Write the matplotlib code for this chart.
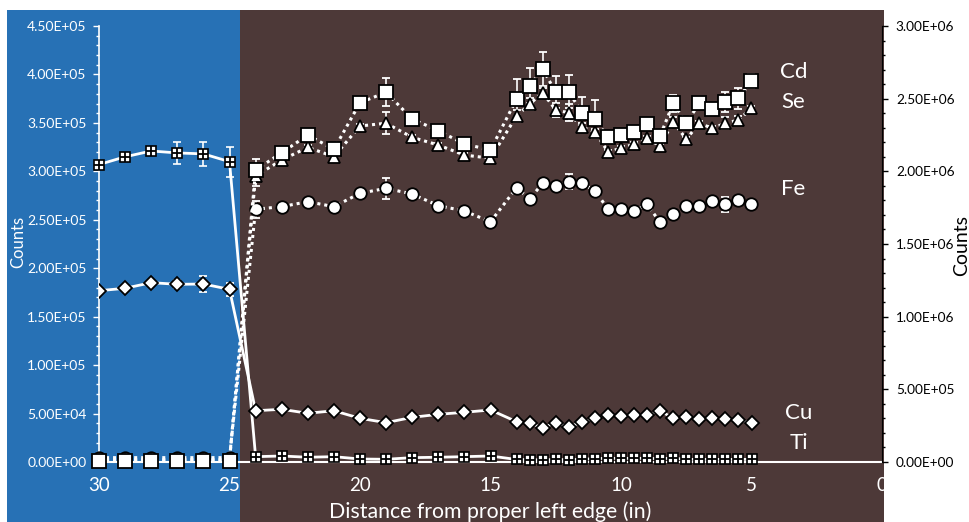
import matplotlib.pyplot as plt
from matplotlib.patches import Rectangle
from matplotlib.ticker import MultipleLocator, FuncFormatter

plt.rcParams['font.family'] = ['Lato', 'DejaVu Sans']

# distance (in) from proper left edge
dist = [30, 29, 28, 27, 26, 25,
        24, 23, 22, 21, 20, 19, 18, 17, 16, 15,
        14, 13.5, 13, 12.5, 12, 11.5, 11, 10.5, 10, 9.5, 9, 8.5, 8, 7.5, 7, 6.5, 6, 5.5, 5]

# left axis (solid lines)
ti = [3.07e5, 3.15e5, 3.21e5, 3.19e5, 3.18e5, 3.10e5,
      5.5e3, 6.2e3, 4.9e3, 5.5e3, 3.1e3, 2.8e3, 4.5e3, 4.9e3, 5.5e3, 6.2e3,
      2.6e3, 2.4e3, 2.2e3, 2.6e3, 2.4e3, 2.8e3, 3.5e3, 3.9e3, 3.7e3, 3.9e3, 3.7e3, 3.5e3, 3.9e3,
      2.8e3, 2.6e3, 2.8e3, 2.6e3, 2.8e3, 2.6e3]
ti_err = [2e3, 4e3, 3e3, 1.1e4, 1.2e4, 1.55e4,
          2e3, 0, 0, 0, 0, 0, 0, 0, 0, 0,
          0, 0, 0, 0, 0, 0, 0, 0, 0, 0, 0, 0, 0, 0, 0, 0, 0, 0, 0]
cu = [1.768e5, 1.793e5, 1.851e5, 1.834e5, 1.837e5, 1.782e5,
      5.29e4, 5.44e4, 5.03e4, 5.29e4, 4.51e4, 4.06e4, 4.61e4, 4.92e4, 5.13e4, 5.37e4,
      4.16e4, 3.99e4, 3.54e4, 4.06e4, 3.64e4, 4.10e4, 4.51e4, 4.85e4, 4.78e4, 4.85e4, 4.85e4,
      5.29e4, 4.51e4, 4.68e4, 4.44e4, 4.51e4, 4.44e4, 4.33e4, 4.06e4]
cu_err = [2e3, 2e3, 2e3, 4e3, 8.5e3, 7e3,
          0, 0, 0, 0, 0, 0, 0, 0, 0, 0,
          0, 0, 0, 0, 0, 0, 0, 0, 0, 0, 0, 0, 0, 0, 0, 0, 0, 0, 0]

# right axis (dotted lines)
cd = [9e3, 9e3, 1.0e4, 9e3, 9e3, 1.0e4,
      2.009e6, 2.128e6, 2.25e6, 2.151e6, 2.472e6, 2.544e6, 2.36e6, 2.28e6, 2.188e6, 2.147e6,
      2.498e6, 2.589e6, 2.704e6, 2.544e6, 2.549e6, 2.403e6, 2.358e6, 2.234e6, 2.25e6, 2.273e6,
      2.324e6, 2.245e6, 2.468e6, 2.331e6, 2.468e6, 2.427e6, 2.479e6, 2.502e6, 2.622e6]
cd_err = [0, 0, 0, 0, 0, 0,
          7.6e4, 2e4, 2e4, 2e4, 2e4, 9.6e4, 2e4, 2.5e4, 2e4, 2e4,
          1.4e5, 1.2e5, 1.2e5, 1.1e5, 1.15e5, 1.1e5, 1.3e5, 2e4, 2e4, 2.5e4, 2e4, 2e4, 6e4,
          2e4, 2e4, 2e4, 7e4, 7e4, 4.6e4]
se = [1.5e4, 1.5e4, 1.5e4, 1.5e4, 1.5e4, 1.5e4,
      1.968e6, 2.078e6, 2.165e6, 2.101e6, 2.312e6, 2.331e6, 2.234e6, 2.181e6, 2.112e6, 2.09e6,
      2.381e6, 2.463e6, 2.541e6, 2.422e6, 2.403e6, 2.303e6, 2.273e6, 2.135e6, 2.158e6, 2.188e6,
      2.227e6, 2.174e6, 2.342e6, 2.221e6, 2.331e6, 2.296e6, 2.331e6, 2.353e6, 2.434e6]
se_err = [0, 0, 0, 0, 0, 0,
          7e4, 1.5e4, 1.5e4, 1.5e4, 1.5e4, 7.5e4, 1.5e4, 1.5e4, 1.5e4, 1.5e4,
          4e4, 4e4, 3e4, 5e4, 6e4, 3e4, 1.5e4, 1.5e4, 1.5e4, 1.5e4, 1.5e4, 1.5e4, 3e4,
          1.5e4, 1.5e4, 1.5e4, 4e4, 3e4, 1.5e4]
fe = [3.0e4, 3.0e4, 3.0e4, 3.0e4, 3.0e4, 3.0e4,
      1.739e6, 1.757e6, 1.791e6, 1.757e6, 1.849e6, 1.883e6, 1.844e6, 1.764e6, 1.727e6, 1.653e6,
      1.887e6, 1.81e6, 1.918e6, 1.901e6, 1.929e6, 1.918e6, 1.867e6, 1.741e6, 1.741e6, 1.727e6,
      1.773e6, 1.649e6, 1.706e6, 1.764e6, 1.764e6, 1.798e6, 1.773e6, 1.803e6, 1.773e6]
fe_err = [0, 0, 0, 0, 0, 0,
          6e4, 1.5e4, 1.5e4, 1.5e4, 1.5e4, 7e4, 1.5e4, 1.5e4, 1.5e4, 1.5e4,
          1.5e4, 1.5e4, 1.5e4, 1.5e4, 5e4, 1.5e4, 1.5e4, 1.5e4, 1.5e4, 1.5e4, 1.5e4, 1.5e4, 1.5e4,
          1.5e4, 1.5e4, 1.5e4, 5e4, 1.5e4, 1.5e4]

blue = '#2771b5'
brown = '#4d3938'

fig = plt.figure(figsize=(9.69, 5.22), dpi=100)
fig.patches.append(Rectangle((7/969, 0), 233/969, 512/522, transform=fig.transFigure,
                             facecolor=blue, edgecolor='none', zorder=-10))
fig.patches.append(Rectangle((240/969, 0), 644/969, 512/522, transform=fig.transFigure,
                             facecolor=brown, edgecolor='none', zorder=-10))

ax = fig.add_axes([99/969, 60/522, 783/969, 436/522])
ax.set_facecolor('none')
ax2 = ax.twinx()

sci = FuncFormatter(lambda v, p: f'{v:.2E}')

# left axis series
ax.errorbar(dist, ti, yerr=ti_err, color='white', lw=2, marker='s', ms=7, mfc='white', mec='black',
            mew=1.2, ecolor='white', elinewidth=1.2, capsize=3, zorder=3, clip_on=False)
ax.plot(dist, ti, ls='none', marker='+', ms=7, color='black', mew=1.3, zorder=4, clip_on=False)
ax.errorbar(dist, cu, yerr=cu_err, color='white', lw=2, marker='D', ms=7.5, mfc='white', mec='black',
            mew=1.3, ecolor='white', elinewidth=1.2, capsize=3, zorder=3)

# right axis series
dots = (0, (1, 1.3))
for vals, err, mk, ms in [(fe, fe_err, 'o', 9), (se, se_err, '^', 9), (cd, cd_err, 's', 9.5)]:
    ax2.errorbar(dist, vals, yerr=err, color='white', lw=2.2, ls=dots, marker=mk, ms=ms,
                 mfc='white', mec='black', mew=1.3, ecolor='white', elinewidth=1.2, capsize=3,
                 clip_on=False)

ax.set_xlim(30, 0)
ax.set_ylim(0, 4.5e5)
ax2.set_ylim(0, 3.0e6)

ax.yaxis.set_major_locator(MultipleLocator(5e4))
ax.yaxis.set_minor_locator(MultipleLocator(1e4))
ax.yaxis.set_major_formatter(sci)
ax2.yaxis.set_major_locator(MultipleLocator(5e5))
ax2.yaxis.set_minor_locator(MultipleLocator(1e5))
ax2.yaxis.set_major_formatter(sci)
ax.xaxis.set_major_locator(MultipleLocator(5))

for s in ['top', 'right']:
    ax.spines[s].set_visible(False)
for s in ['top', 'left', 'bottom']:
    ax2.spines[s].set_visible(False)
ax.spines['left'].set_color('white')
ax.spines['left'].set_linewidth(1.2)
ax.spines['bottom'].set_color('white')
ax.spines['bottom'].set_linewidth(1.5)
ax2.spines['right'].set_color('black')

ax.tick_params(axis='y', which='major', colors='white', labelsize=10, length=4, width=1, pad=5)
ax.tick_params(axis='y', which='minor', colors='white', length=2.5, width=1)
ax.tick_params(axis='x', colors='white', labelsize=13.5, length=0, pad=11)
ax2.tick_params(axis='y', which='major', colors='black', labelsize=9.8, length=4, width=1, pad=6)
ax2.tick_params(axis='y', which='minor', colors='black', length=2.5, width=1)

ax.set_xlabel('Distance from proper left edge (in)', color='white', fontsize=15.3, labelpad=5)
fig.text(18.5/969, 1 - 242/522, 'Counts', color='white', fontsize=12, rotation=90,
         ha='center', va='center')
fig.text(962/969, 1 - 245/522, 'Counts', color='black', fontsize=14, rotation=90,
         ha='center', va='center')

for name, xv, yv in [('Cd', 3.4, 4.025e5), ('Se', 3.4, 3.716e5), ('Fe', 3.4, 2.818e5),
                     ('Cu', 3.2, 5.06e4), ('Ti', 3.2, 1.96e4)]:
    ax.text(xv, yv, name, color='white', fontsize=16, ha='center', va='center')

fig.savefig('out.png', dpi=100)
